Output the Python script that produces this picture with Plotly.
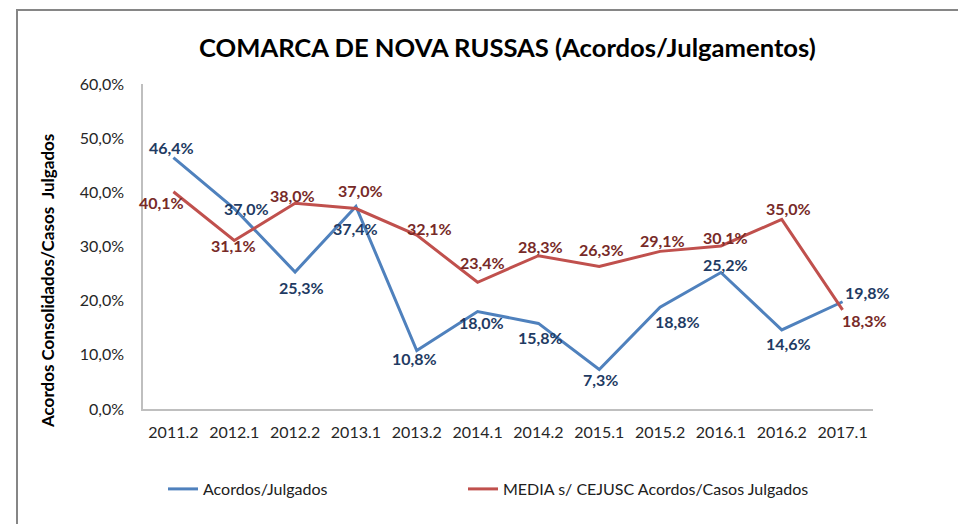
import plotly.graph_objects as go

# Semesters on the category axis
periodos = ["2011.2", "2012.1", "2012.2", "2013.1", "2013.2", "2014.1",
            "2014.2", "2015.1", "2015.2", "2016.1", "2016.2", "2017.1"]

# Share of agreements over judged cases (percent)
acordos_julgados = [46.4, 37.0, 25.3, 37.4, 10.8, 18.0, 15.8, 7.3, 18.8, 25.2, 14.6, 19.8]
media_cejusc = [40.1, 31.1, 38.0, 37.0, 32.1, 23.4, 28.3, 26.3, 29.1, 30.1, 35.0, 18.3]

nome_azul = "Acordos/Julgados"
nome_verm = "MEDIA s/ CEJUSC Acordos/Casos Julgados"

# Pixel offsets of each value label relative to its point (dx, dy; dy>0 is up)
desloc_azul = [(-2, 10), (12, 0), (6, -16), (0, -22), (-2, -8), (4, -11),
               (2, -14), (1, -10), (17, -14), (5, 8), (7, -14), (25, 9)]
desloc_verm = [(-12, -11), (-1, -5), (-3, 8), (5, 18), (13, 7), (5, 20),
               (2, 9), (2, 17), (2, 11), (5, 8), (7, 11), (22, -11)]

FONTE = "Lato"
AZUL = "#4F81BD"
VERM = "#C0504D"
AZUL_TXT = "#1F3B63"
VERM_TXT = "#772A28"

L, R, T, B = 143, 85, 84, 115
W, H = 958, 524
pw, ph = W - L - R, H - T - B


def px_x(px):
    return (px - L) / pw


def px_y(py):
    return (H - B - py) / ph


fig = go.Figure()
fig.add_trace(go.Scatter(x=periodos, y=[v / 100 for v in acordos_julgados], mode="lines",
                         name=nome_azul, line=dict(color=AZUL, width=3), legend="legend"))
fig.add_trace(go.Scatter(x=periodos, y=[v / 100 for v in media_cejusc], mode="lines",
                         name=nome_verm, line=dict(color=VERM, width=3), legend="legend2"))

anots = []
for serie, desl, cor in ((acordos_julgados, desloc_azul, AZUL_TXT),
                         (media_cejusc, desloc_verm, VERM_TXT)):
    for i, (v, (dx, dy)) in enumerate(zip(serie, desl)):
        anots.append(dict(x=i, y=v / 100, xref="x", yref="y", showarrow=False,
                          xanchor="center", yanchor="middle",
                          text=f"{v:.1f}%".replace(".", ","), xshift=dx, yshift=dy,
                          font=dict(family=FONTE, size=16, color=cor, weight="bold")))

anots.append(dict(x=px_x(507), y=px_y(47), xref="paper", yref="paper", showarrow=False,
                  xanchor="center", yanchor="middle",
                  text="COMARCA DE NOVA RUSSAS (Acordos/Julgamentos)",
                  font=dict(family=FONTE, size=25.6, color="#000000", weight="bold")))
anots.append(dict(x=px_x(47), y=px_y(281), xref="paper", yref="paper", showarrow=False,
                  xanchor="center", yanchor="middle",
                  text="Acordos Consolidados/Casos  Julgados", textangle=-90,
                  font=dict(family=FONTE, size=17, color="#000000", weight="bold")))

leg_common = dict(orientation="h", yanchor="middle", xanchor="left",
                  font=dict(family=FONTE, size=16, color="#202020"),
                  bgcolor="rgba(0,0,0,0)")

fig.update_layout(
    width=W, height=H,
    margin=dict(l=L, r=R, t=T, b=B),
    paper_bgcolor="white", plot_bgcolor="white",
    separators=",.",
    font=dict(family=FONTE, size=16, color="#404040"),
    annotations=anots,
    showlegend=True,
    legend=dict(x=px_x(163), y=px_y(489), **leg_common),
    legend2=dict(x=px_x(463), y=px_y(489), **leg_common),
    shapes=[dict(type="rect", xref="paper", yref="paper",
                 x0=px_x(17), x1=px_x(1000), y0=px_y(600), y1=px_y(10),
                 line=dict(color="#868686", width=2), layer="below")],
    xaxis=dict(type="category", range=[-0.5, 11.5], showgrid=False, zeroline=False,
               showline=True, linecolor="#BFBFBF", linewidth=1.5,
               ticks="outside", ticklen=8, tickcolor="rgba(0,0,0,0)",
               tickfont=dict(family=FONTE, size=16, color="#262626")),
    yaxis=dict(range=[0, 0.6], dtick=0.1, tickformat=".1%", showgrid=False, zeroline=False,
               showline=True, linecolor="#BFBFBF", linewidth=1.5,
               ticks="outside", ticklen=14, tickcolor="rgba(0,0,0,0)",
               tickfont=dict(family=FONTE, size=16, color="#262626")),
)

fig.write_html("out.html")
